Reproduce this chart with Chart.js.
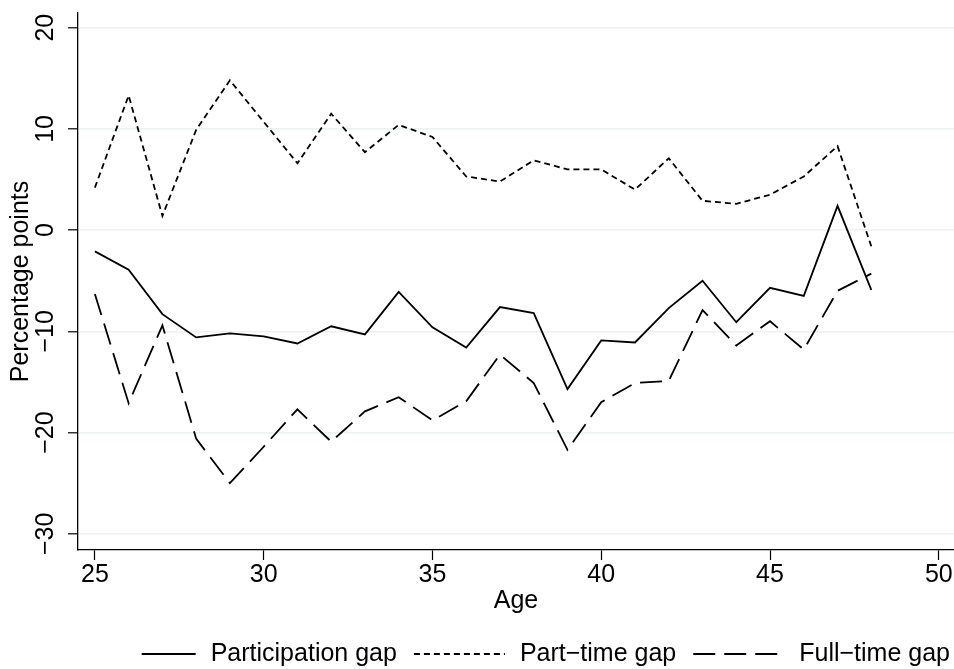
<!DOCTYPE html>
<html>
<head>
<meta charset="utf-8">
<title>Gaps by age</title>
<script src="https://cdn.jsdelivr.net/npm/chart.js@4.4.1/dist/chart.umd.min.js"></script>
<style>
    html, body { margin: 0; padding: 0; background: #fff; }
    #wrap { width: 954px; height: 669px; }
</style>
</head>
<body>
<div id="wrap"><canvas id="chart" width="954" height="669"></canvas></div>
<script>
// Datos
const ages = [25, 26, 27, 28, 29, 30, 31, 32, 33, 34, 35, 36, 37, 38, 39, 40, 41, 42, 43, 44, 45, 46, 47, 48];
const participationGap = [-2.1, -3.9, -8.3, -10.6, -10.2, -10.5, -11.2, -9.5, -10.3, -6.1, -9.6, -11.6, -7.6, -8.2, -15.7, -10.9, -11.1, -7.7, -5.0, -9.1, -5.7, -6.5, 2.4, -5.9];
const partTimeGap = [4.2, 13.3, 1.4, 9.9, 14.8, 10.7, 6.6, 11.5, 7.7, 10.4, 9.2, 5.3, 4.8, 6.9, 6.0, 6.0, 4.0, 7.1, 2.9, 2.6, 3.5, 5.3, 8.3, -1.6];
const fullTimeGap = [-6.3, -17.1, -9.4, -20.6, -25.0, -21.4, -17.7, -20.9, -17.9, -16.5, -18.8, -16.9, -12.3, -15.1, -21.7, -17.0, -15.1, -14.9, -7.9, -11.4, -9.0, -11.8, -6.0, -4.3];
const seriesLabels = ['Participation gap', 'Part\u2212time gap', 'Full\u2212time gap'];
const xTicks = [25, 30, 35, 40, 45, 50];
const yTicks = [-30, -20, -10, 0, 10, 20];

const FONT = "'Liberation Sans', Arial, Helvetica, sans-serif";
const minus = v => String(v).replace('-', '\u2212');
const toPoints = vals => vals.map((v, i) => ({ x: ages[i], y: v }));

// etiquetas del eje Y giradas (como en Stata)
const yLabelsPlugin = {
    id: 'yLabels',
    afterDraw(chart) {
        const { ctx } = chart;
        const scale = chart.scales.y;
        ctx.save();
        ctx.font = `25px ${FONT}`;
        ctx.fillStyle = '#000';
        ctx.textAlign = 'center';
        ctx.textBaseline = 'middle';
        scale.ticks.forEach(t => {
            const py = scale.getPixelForValue(t.value);
            ctx.save();
            ctx.translate(46.5, py);
            ctx.rotate(-Math.PI / 2);
            ctx.fillText(minus(t.value), 0, 0);
            ctx.restore();
        });
        ctx.restore();
    }
};

// leyenda inferior
const legendPlugin = {
    id: 'bottomLegend',
    afterDraw(chart) {
        const { ctx } = chart;
        const keyW = [54, 91, 91], keyGap = 15, itemGap = 17, yMid = 654;
        ctx.save();
        ctx.font = `25px ${FONT}`;
        ctx.fillStyle = '#000';
        ctx.textAlign = 'left';
        ctx.textBaseline = 'middle';
        const sets = chart.data.datasets;
        const widths = sets.map(ds => ctx.measureText(ds.label).width);
        const total = widths.reduce((a, b) => a + b, 0) + keyW.reduce((a, b) => a + b, 0)
            + sets.length * keyGap + (sets.length - 1) * itemGap;
        let x = 950 - total;
        sets.forEach((ds, i) => {
            ctx.setLineDash(ds.borderDash || []);
            ctx.lineWidth = ds.borderWidth;
            ctx.strokeStyle = ds.borderColor;
            ctx.beginPath();
            ctx.moveTo(x, yMid);
            ctx.lineTo(x + keyW[i], yMid);
            ctx.stroke();
            ctx.setLineDash([]);
            x += keyW[i] + keyGap;
            ctx.fillText(ds.label, x, yMid);
            x += widths[i] + itemGap;
        });
        ctx.restore();
    }
};

const lineStyle = (label, data, dash) => ({
    label,
    data: toPoints(data),
    borderColor: '#000',
    borderWidth: 1.8,
    borderDash: dash,
    pointRadius: 0,
    tension: 0,
    fill: false
});

new Chart(document.getElementById('chart'), {
    type: 'line',
    data: {
        datasets: [
            lineStyle(seriesLabels[0], participationGap, []),
            lineStyle(seriesLabels[1], partTimeGap, [6, 4]),
            lineStyle(seriesLabels[2], fullTimeGap, [22, 9])
        ]
    },
    options: {
        responsive: false,
        animation: false,
        devicePixelRatio: 1,
        layout: { padding: { top: 13, right: 0, bottom: 48, left: 0 } },
        plugins: {
            legend: { display: false },
            tooltip: { enabled: false }
        },
        scales: {
            x: {
                type: 'linear',
                min: 24.5,
                max: 50.45,
                afterBuildTicks: s => { s.ticks = xTicks.map(v => ({ value: v })); },
                afterFit: s => { s.height = 71; },
                grid: { drawOnChartArea: false, drawTicks: true, tickLength: 10, tickColor: '#000', tickWidth: 1.2 },
                border: { display: true, color: '#000', width: 1.3 },
                ticks: { color: '#000', padding: 0, maxRotation: 0, font: { family: FONT, size: 25 } },
                title: { display: true, text: 'Age', color: '#000', padding: { top: 0, bottom: 5 }, font: { family: FONT, size: 25 } }
            },
            y: {
                type: 'linear',
                min: -31.6,
                max: 21.45,
                afterBuildTicks: s => { s.ticks = yTicks.map(v => ({ value: v })); },
                afterFit: s => { s.width = 78; },
                grid: { color: '#eaf2f3', lineWidth: 1.6, drawTicks: true, tickLength: 10, tickColor: '#000', tickWidth: 1.2 },
                border: { display: true, color: '#000', width: 1.3 },
                ticks: { display: false },
                title: { display: true, text: 'Percentage points', color: '#000', padding: { top: 6, bottom: 0 }, font: { family: FONT, size: 25 } }
            }
        }
    },
    plugins: [yLabelsPlugin, legendPlugin]
});
</script>
</body>
</html>
